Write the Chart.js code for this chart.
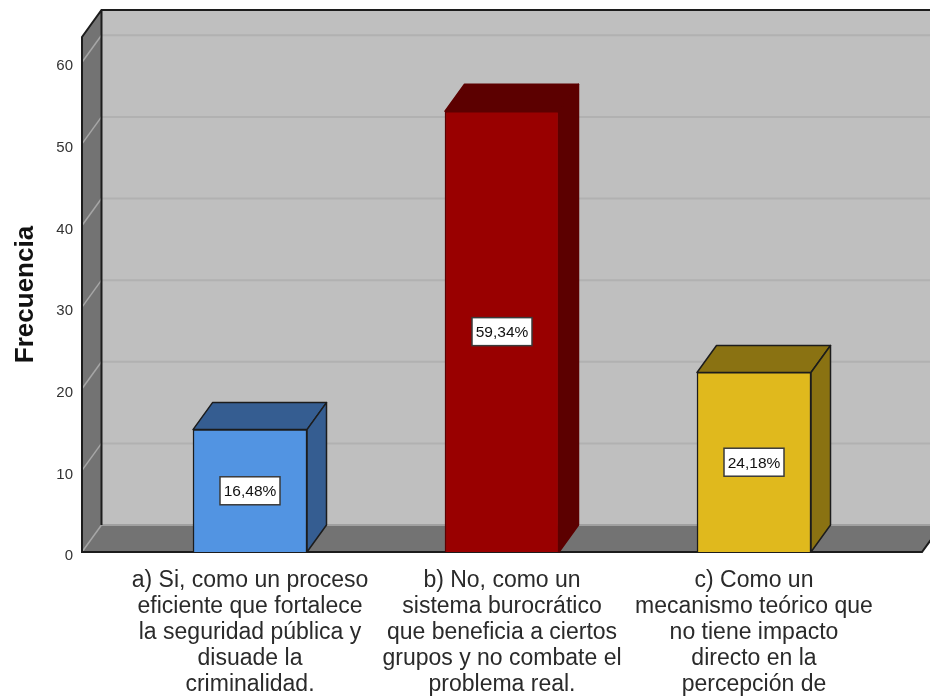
<!DOCTYPE html>
<html>
<head>
<meta charset="utf-8">
<title>Frecuencia</title>
<script src="https://cdn.jsdelivr.net/npm/chart.js@4/dist/chart.umd.min.js"></script>
<style>
  body { margin: 0; background: #fff; }
  canvas { display: block; }
</style>
</head>
<body>
<canvas id="myChart" width="930" height="696"></canvas>
<script>
const categories = [
  ["a) Si, como un proceso", "eficiente que fortalece", "la seguridad pública y", "disuade la", "criminalidad."],
  ["b) No, como un", "sistema burocrático", "que beneficia a ciertos", "grupos y no combate el", "problema real."],
  ["c) Como un", "mecanismo teórico que", "no tiene impacto", "directo en la", "percepción de"],
];
const frequencies = [15, 54, 22];
const percentLabels = ["16,48%", "59,34%", "24,18%"];
const frontColors = ["#5294e2", "#990000", "#e0b91d"];
const sideColors = ["#355d91", "#5c0000", "#8a7212"];
const edgeColors = ["#1c1c1c", "#5c0000", "#1c1c1c"];

const DEPTH_X = 19.5;
const DEPTH_Y = 27;
const FONT = '"Liberation Sans", Arial, sans-serif';

function fillPoly(ctx, points, fill, stroke, lineWidth) {
  ctx.beginPath();
  points.forEach((p, i) => (i ? ctx.lineTo(p[0], p[1]) : ctx.moveTo(p[0], p[1])));
  ctx.closePath();
  ctx.fillStyle = fill;
  ctx.fill();
  if (stroke) {
    ctx.strokeStyle = stroke;
    ctx.lineWidth = lineWidth;
    ctx.stroke();
  }
}

// walls, floor and grid lines of the 3D box, behind the bars
const boxPlugin = {
  id: "box",
  beforeDatasetsDraw(chart) {
    const { ctx } = chart;
    const y = chart.scales.y;
    const left = 82;
    const right = 922;
    const top = y.getPixelForValue(y.max);
    const bottom = y.getPixelForValue(0);
    const outline = "#1c1c1c";

    ctx.save();
    // back wall
    fillPoly(ctx, [
      [left + DEPTH_X, top - DEPTH_Y],
      [right + DEPTH_X, top - DEPTH_Y],
      [right + DEPTH_X, bottom - DEPTH_Y],
      [left + DEPTH_X, bottom - DEPTH_Y],
    ], "#bfbfbf");
    // side wall
    fillPoly(ctx, [
      [left, top],
      [left + DEPTH_X, top - DEPTH_Y],
      [left + DEPTH_X, bottom - DEPTH_Y],
      [left, bottom],
    ], "#737373");
    // floor
    fillPoly(ctx, [
      [left, bottom],
      [left + DEPTH_X, bottom - DEPTH_Y],
      [right + DEPTH_X, bottom - DEPTH_Y],
      [right, bottom],
    ], "#737373");

    // grid lines
    y.ticks.forEach((tick) => {
      const py = y.getPixelForValue(tick.value);
      ctx.lineWidth = 1.5;
      ctx.strokeStyle = "#a6a6a6";
      ctx.beginPath();
      ctx.moveTo(left, py);
      ctx.lineTo(left + DEPTH_X, py - DEPTH_Y);
      ctx.stroke();
      if (tick.value > 0) {
        ctx.lineWidth = 2;
        ctx.strokeStyle = "#b1b1b1";
        ctx.beginPath();
        ctx.moveTo(left + DEPTH_X, py - DEPTH_Y);
        ctx.lineTo(right + DEPTH_X, py - DEPTH_Y);
        ctx.stroke();
      }
    });
    // light edge where floor meets the back wall
    ctx.lineWidth = 2;
    ctx.strokeStyle = "#a0a0a0";
    ctx.beginPath();
    ctx.moveTo(left + DEPTH_X, bottom - DEPTH_Y);
    ctx.lineTo(right + DEPTH_X, bottom - DEPTH_Y);
    ctx.stroke();

    // outlines
    ctx.lineWidth = 2;
    ctx.strokeStyle = outline;
    ctx.beginPath();
    ctx.moveTo(right + DEPTH_X, top - DEPTH_Y);
    ctx.lineTo(left + DEPTH_X, top - DEPTH_Y);
    ctx.lineTo(left, top);
    ctx.lineTo(left, bottom);
    ctx.lineTo(right, bottom);
    ctx.lineTo(right + DEPTH_X, bottom - DEPTH_Y);
    ctx.moveTo(left + DEPTH_X, top - DEPTH_Y);
    ctx.lineTo(left + DEPTH_X, bottom - DEPTH_Y);
    ctx.stroke();
    ctx.restore();

    // top and side faces of each bar
    const bars = chart.getDatasetMeta(0).data;
    bars.forEach((bar, i) => {
      const x0 = bar.x - bar.width / 2;
      const x1 = bar.x + bar.width / 2;
      ctx.save();
      ctx.lineJoin = "round";
      fillPoly(ctx, [
        [x0, bar.y],
        [x0 + DEPTH_X, bar.y - DEPTH_Y],
        [x1 + DEPTH_X, bar.y - DEPTH_Y],
        [x1, bar.y],
      ], sideColors[i], edgeColors[i], 1.5);
      fillPoly(ctx, [
        [x1, bar.y],
        [x1 + DEPTH_X, bar.y - DEPTH_Y],
        [x1 + DEPTH_X, bar.base - DEPTH_Y],
        [x1, bar.base],
      ], sideColors[i], edgeColors[i], 1.5);
      ctx.restore();
    });
  },
  // white percentage boxes in the middle of the bars
  afterDatasetsDraw(chart) {
    const { ctx } = chart;
    chart.getDatasetMeta(0).data.forEach((bar, i) => {
      const cy = (bar.y + bar.base) / 2;
      const w = 60;
      const h = 28;
      ctx.save();
      ctx.fillStyle = "#fff";
      ctx.strokeStyle = "#3a3a3a";
      ctx.lineWidth = 1.5;
      ctx.fillRect(bar.x - w / 2, cy - h / 2, w, h);
      ctx.strokeRect(bar.x - w / 2, cy - h / 2, w, h);
      ctx.fillStyle = "#111";
      ctx.font = "15.5px " + FONT;
      ctx.textAlign = "center";
      ctx.textBaseline = "middle";
      ctx.fillText(percentLabels[i], bar.x, cy + 1);
      ctx.restore();
    });
  },
};

new Chart(document.getElementById("myChart"), {
  type: "bar",
  data: {
    labels: categories,
    datasets: [
      {
        label: "Frecuencia",
        data: frequencies,
        backgroundColor: frontColors,
        borderColor: edgeColors,
        borderWidth: 1.5,
        barThickness: 114,
      },
    ],
  },
  options: {
    responsive: false,
    animation: false,
    layout: { padding: { top: 37, right: 50, left: 0, bottom: 0 } },
    plugins: {
      legend: { display: false },
      tooltip: { enabled: false },
    },
    scales: {
      x: {
        grid: { display: false, drawTicks: false },
        border: { display: false },
        afterFit: (scale) => {
          scale.height = 144;
        },
        ticks: {
          autoSkip: false,
          maxRotation: 0,
          minRotation: 0,
          padding: 16,
          color: "#2a2a2a",
          font: { family: FONT, size: 23, lineHeight: 26 / 23 },
        },
      },
      y: {
        min: 0,
        max: 63.1,
        afterFit: (scale) => {
          // tick padding would otherwise push the plot area down
          scale.width = 124;
          scale.paddingTop = 0;
          scale.paddingBottom = 0;
        },
        grid: { display: false, drawTicks: false },
        border: { display: false },
        title: {
          display: true,
          text: "Frecuencia",
          color: "#111",
          padding: { top: 10, bottom: 0 },
          font: { family: FONT, size: 26, weight: "bold" },
        },
        ticks: {
          stepSize: 10,
          includeBounds: false,
          padding: 51,
          labelOffset: 4,
          color: "#333",
          font: { family: FONT, size: 15 },
        },
      },
    },
  },
  plugins: [boxPlugin],
});
</script>
</body>
</html>
